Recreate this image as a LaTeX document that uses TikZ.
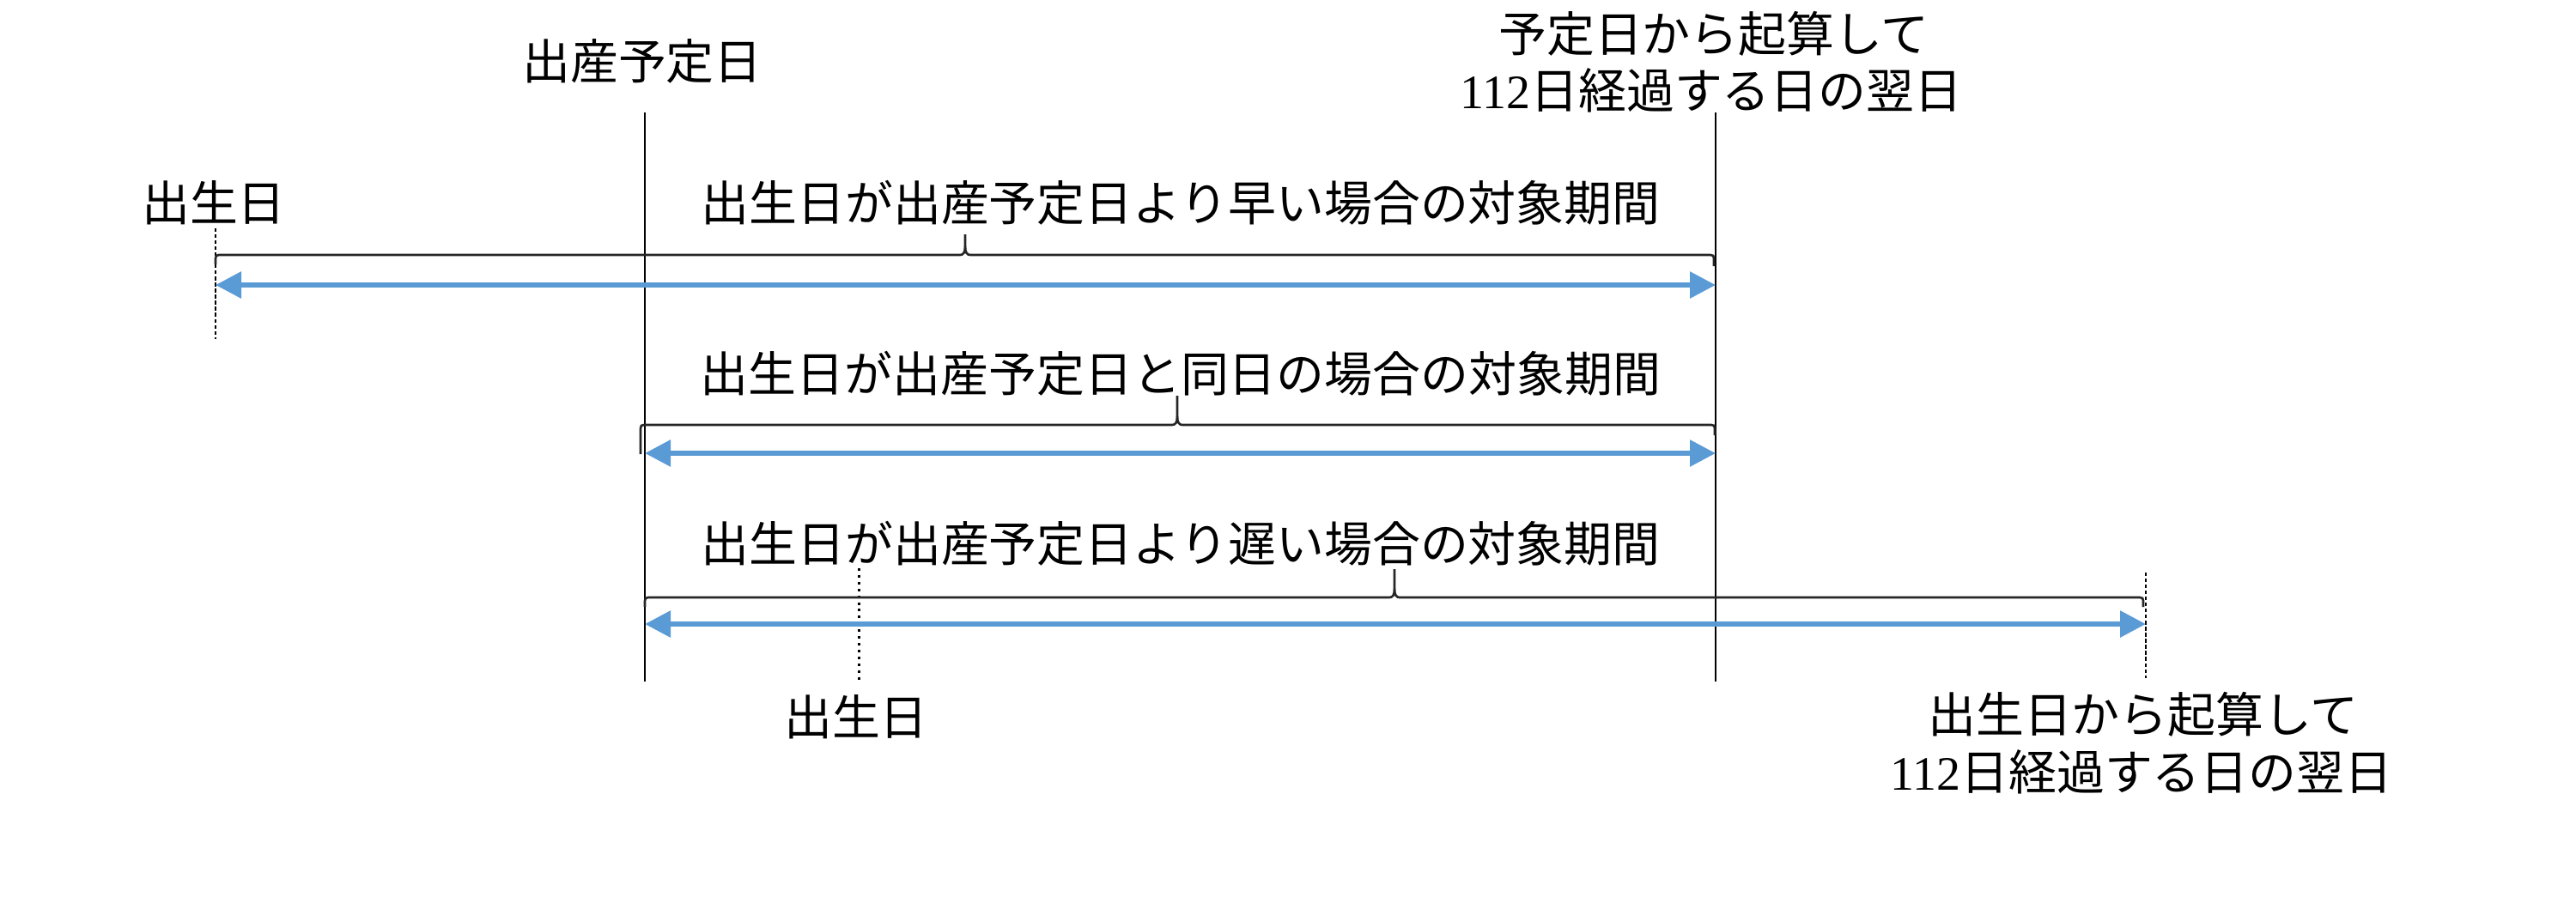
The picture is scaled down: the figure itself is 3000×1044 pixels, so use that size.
\documentclass[tikz,border=0pt]{standalone}
\usepackage{fontspec}
\setmainfont{Liberation Serif}
\newfontfamily\jp{Noto Sans CJK JP}
\usetikzlibrary{arrows.meta}
\definecolor{arrowblue}{HTML}{5B9BD5}
\newcommand{\drawbrace}[7]{% x1, x2, xtip, y, dl, dr, tiph
  \draw[bracestyle] (#1,#4+#5) -- (#1,#4+4) .. controls (#1,#4+1) and (#1+1,#4) .. (#1+4,#4)
    -- (#3-6,#4) .. controls (#3-2,#4) and (#3,#4-3) .. (#3,#4-10) -- (#3,#4-#7);
  \draw[bracestyle] (#3,#4-10) .. controls (#3,#4-3) and (#3+2,#4) .. (#3+6,#4)
    -- (#2-4,#4) .. controls (#2-1,#4) and (#2,#4+1) .. (#2,#4+4) -- (#2,#4+#6);
}
\begin{document}
\begin{tikzpicture}[x=0.01cm,y=-0.01cm,
  lbl/.style={inner sep=0pt, font=\fontsize{15.9pt}{18.8pt}\selectfont, text height=0.88em, text depth=0.12em, yshift=-0.10cm},
  vline/.style={line width=0.6pt, black},
  bracestyle/.style={line width=0.75pt, black!85},
  dashline/.style={line width=0.7pt, black, dash pattern=on 1.2pt off 0.8pt},
  dotline/.style={line width=0.85pt, black, dash pattern=on 0.85pt off 1.4pt},
  period/.style={line width=1.7pt, arrowblue, {Triangle[length=0.30cm,width=0.30cm]}-{Triangle[length=0.30cm,width=0.30cm]}}]
\useasboundingbox (0,0) rectangle (3000,1044);

% labels
\node[lbl] (due) at (748,69) {\jp 出産予定日};
\node[lbl] (dueendA) at (1996,37) {\jp 予定日から起算して};
\node[lbl] (dueendB) at (1993,103) {112{\jp 日経過する日の翌日}};
\node[lbl] (birthA) at (249,234) {\jp 出生日};
\node[lbl] (t1) at (1375,234) {\jp 出生日が出産予定日より早い場合の対象期間};
\node[lbl] (t2) at (1375,433) {\jp 出生日が出産予定日と同日の場合の対象期間};
\node[lbl] (t3) at (1375,631) {\jp 出生日が出産予定日より遅い場合の対象期間};
\node[lbl] (birthC) at (997,833) {\jp 出生日};
\node[lbl] (birthendA) at (2496,830) {\jp 出生日から起算して};
\node[lbl] (birthendB) at (2494,897) {112{\jp 日経過する日の翌日}};

% reference points
\coordinate (v1t) at (751,131);
\coordinate (v1b) at (751,794);
\coordinate (v2t) at (1998,131);
\coordinate (v2b) at (1998,794);
\coordinate (dAt) at (251,266);
\coordinate (dAb) at (251,395);
\coordinate (dCt) at (1000,662);
\coordinate (dCb) at (1000,795);
\coordinate (dEt) at (2499,667);
\coordinate (dEb) at (2499,790);
\coordinate (a1l) at (251,332);
\coordinate (a1r) at (1998,332);
\coordinate (a2l) at (751,528);
\coordinate (a2r) at (1998,528);
\coordinate (a3l) at (751,727);
\coordinate (a3r) at (2499,727);

% vertical lines
\draw[vline] (v1t) -- (v1b);
\draw[vline] (v2t) -- (v2b);
\draw[dashline] (dAt) -- (dAb);
\draw[dotline] (dCt) -- (dCb);
\draw[dashline] (dEt) -- (dEb);

% braces
\drawbrace{251}{1996}{1124}{297}{11}{13}{24}
\drawbrace{746}{1997}{1371}{495}{34}{12}{34}
\drawbrace{751}{2496}{1624}{696}{11}{11}{33}

% periods
\draw[period] (a1l) -- (a1r);
\draw[period] (a2l) -- (a2r);
\draw[period] (a3l) -- (a3r);
\end{tikzpicture}
\end{document}
